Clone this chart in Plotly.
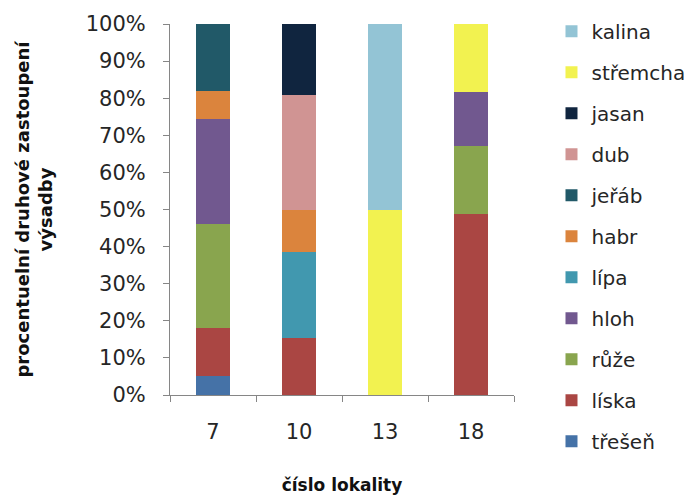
import plotly.graph_objects as go

categories = ["7", "10", "13", "18"]

tresen   = [5.13, 0, 0, 0]
liska    = [12.82, 15.38, 0, 48.9]
ruze     = [28.21, 0, 0, 18.1]
hloh     = [28.21, 0, 0, 14.8]
lipa     = [0, 23.08, 0, 0]
habr     = [7.69, 11.54, 0, 0]
jerab    = [17.95, 0, 0, 0]
dub      = [0, 30.77, 0, 0]
jasan    = [0, 19.23, 0, 0]
stremcha = [0, 0, 50.0, 18.2]
kalina   = [0, 0, 50.0, 0]

series = [
    ("třešeň", tresen, "#4572A7"),
    ("líska", liska, "#AA4643"),
    ("růže", ruze, "#89A54E"),
    ("hloh", hloh, "#71588F"),
    ("lípa", lipa, "#4198AF"),
    ("habr", habr, "#DB843D"),
    ("jeřáb", jerab, "#215968"),
    ("dub", dub, "#D09493"),
    ("jasan", jasan, "#10253F"),
    ("střemcha", stremcha, "#F2F250"),
    ("kalina", kalina, "#93C4D5"),
]

FONT = "DejaVu Sans"
TXT = "#262626"

fig = go.Figure()
n = len(series)
for i, (name, vals, color) in enumerate(series):
    fig.add_trace(go.Bar(
        x=categories, y=vals, name=name, legendgroup=name,
        legendrank=n - i,
        marker=dict(color=color, line=dict(width=0)),
    ))

fig.update_layout(
    width=684, height=487,
    barmode="stack", bargap=0.6,
    plot_bgcolor="white", paper_bgcolor="white",
    margin=dict(l=162, r=178, t=16, b=100, autoexpand=False),
    font=dict(family=FONT, size=20, color=TXT),
    legend=dict(
        traceorder="grouped", x=1.109, y=0.9924, xanchor="left", yanchor="top",
        xref="paper", yref="container", maxheight=485,
        font=dict(family=FONT, size=20, color=TXT),
        tracegroupgap=12, bgcolor="rgba(0,0,0,0)",
    ),
    xaxis=dict(
        type="category", showline=True, linecolor="#868686", linewidth=1,
        ticks="outside", tickson="boundaries", ticklen=6, tickcolor="#868686",
        showgrid=False, ticklabelstandoff=18, automargin=False,
        title=dict(text="<b>číslo lokality</b>", font=dict(family=FONT, size=17, color="#111"), standoff=36),
        tickfont=dict(family=FONT, size=21, color=TXT),
    ),
    yaxis=dict(
        range=[0, 100], tickvals=[0, 10, 20, 30, 40, 50, 60, 70, 80, 90, 100],
        ticktext=[f"{v}%" for v in range(0, 101, 10)],
        showline=True, linecolor="#868686", linewidth=1,
        ticks="outside", ticklen=6, tickcolor="#868686",
        showgrid=False, zeroline=False, ticklabelstandoff=13, automargin=False,
        title=dict(text="<b>procentuelní druhové zastoupení<br>výsadby</b>",
                   font=dict(family=FONT, size=18, color="#111"), standoff=28),
        tickfont=dict(family=FONT, size=21, color=TXT),
    ),
)

fig.write_html("out.html")
